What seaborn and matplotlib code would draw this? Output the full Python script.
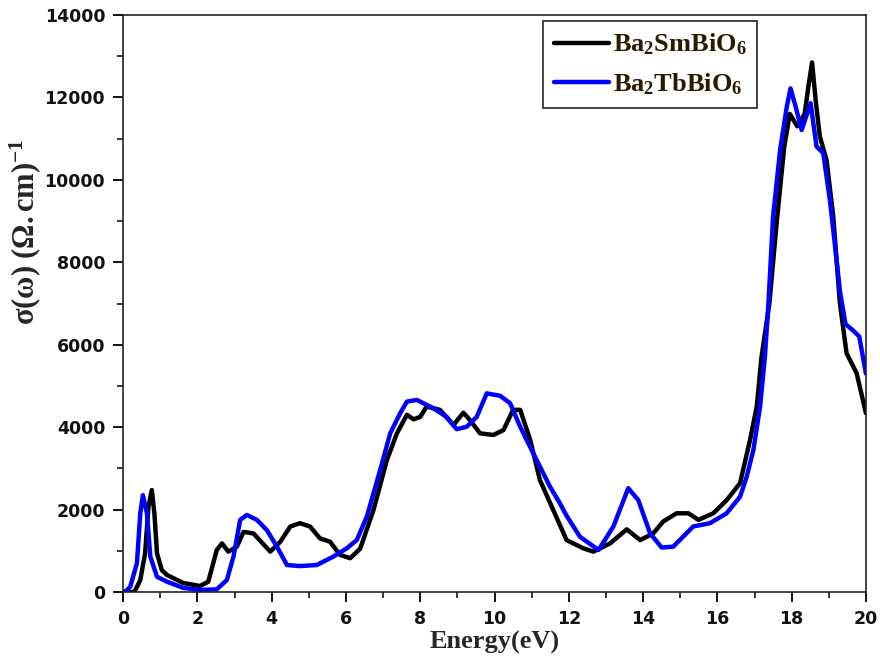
import numpy as np
import pandas as pd
import matplotlib
matplotlib.use("Agg")
import matplotlib.pyplot as plt
import seaborn as sns
from matplotlib.ticker import MultipleLocator

# Optical conductivity of the two double perovskites
sm_energy = [0.0, 0.30, 0.46, 0.59, 0.68, 0.77, 0.84, 0.91, 1.04, 1.18, 1.62, 2.07, 2.29,
             2.52, 2.66, 2.83, 3.06, 3.24, 3.51, 3.96, 4.23, 4.50, 4.76, 5.03, 5.30,
             5.57, 5.84, 6.11, 6.38, 6.74, 7.10, 7.37, 7.64, 7.82, 8.00, 8.17, 8.53,
             8.89, 9.16, 9.34, 9.61, 9.97, 10.24, 10.50, 10.69, 10.96, 11.22, 11.58,
             11.94, 12.39, 12.66, 13.11, 13.56, 13.92, 14.27, 14.54, 14.90, 15.22,
             15.49, 15.89, 16.25, 16.61, 16.88, 17.06, 17.19, 17.40, 17.60, 17.80,
             17.95, 18.15, 18.35, 18.45, 18.55, 18.65, 18.76, 18.94, 19.12, 19.30,
             19.48, 19.75, 20.0]
sm_sigma = [0, 0, 290, 940, 2070, 2475, 1910, 940, 530, 413, 218, 146, 250,
            1020, 1180, 980, 1100, 1460, 1420, 980, 1220, 1590, 1670, 1590, 1300,
            1220, 900, 820, 1050, 1990, 3200, 3850, 4300, 4190, 4250, 4500, 4420,
            4050, 4350, 4170, 3850, 3810, 3930, 4420, 4420, 3690, 2720, 1990,
            1260, 1060, 980, 1180, 1520, 1260, 1420, 1710, 1910, 1910,
            1750, 1910, 2230, 2640, 3690, 4500, 5710, 7000, 9000, 10800,
            11600, 11300, 11600, 12260, 12850, 11900, 11050, 10480, 9110, 7000,
            5790, 5310, 4340]

tb_energy = [0.0, 0.05, 0.19, 0.37, 0.46, 0.53, 0.64, 0.73, 0.91, 1.18, 1.62, 2.07, 2.52,
             2.79, 2.97, 3.15, 3.33, 3.60, 3.87, 4.14, 4.41, 4.76, 5.21, 5.66, 6.02,
             6.29, 6.56, 6.92, 7.19, 7.46, 7.64, 7.91, 8.35, 8.71, 8.98, 9.25, 9.52,
             9.79, 10.15, 10.42, 10.69, 11.04, 11.49, 11.76, 11.94, 12.30, 12.80,
             13.20, 13.60, 13.87, 14.19, 14.50, 14.81, 15.35, 15.80, 16.25, 16.61,
             16.79, 16.97, 17.15, 17.28, 17.37, 17.50, 17.69, 17.87, 17.97, 18.10,
             18.27, 18.51, 18.67, 18.85, 19.03, 19.18, 19.30, 19.45, 19.65, 19.82, 20.0]
tb_sigma = [0, 0, 130, 700, 1910, 2350, 1910, 860, 370, 250, 100, 50, 65,
            290, 860, 1750, 1870, 1750, 1500, 1100, 655, 630, 655, 860, 1060,
            1260, 1830, 2960, 3850, 4340, 4620, 4660, 4460, 4250, 3950, 4010, 4250,
            4820, 4760, 4580, 4010, 3370, 2560, 2150, 1850, 1340, 1020,
            1590, 2520, 2230, 1420, 1080, 1100, 1590, 1670, 1910, 2310,
            2800, 3450, 4500, 5710, 6920, 9110, 10730, 11780, 12220, 11800,
            11210, 11860, 10810, 10650, 9510, 8300, 7300, 6500, 6350, 6200, 5300]

labels = [r"$\mathbf{Ba_2SmBiO_6}$", r"$\mathbf{Ba_2TbBiO_6}$"]
x_ticks = [0, 2, 4, 6, 8, 10, 12, 14, 16, 18, 20]
y_ticks = [0, 2000, 4000, 6000, 8000, 10000, 12000, 14000]

df = pd.concat([
    pd.DataFrame({"Energy": sm_energy, "sigma": sm_sigma, "compound": labels[0]}),
    pd.DataFrame({"Energy": tb_energy, "sigma": tb_sigma, "compound": labels[1]}),
], ignore_index=True)

sns.set_style("ticks")
plt.rcParams["font.family"] = ["DejaVu Sans"]
plt.rcParams["mathtext.fontset"] = "custom"
plt.rcParams["mathtext.rm"] = "Liberation Serif"
plt.rcParams["mathtext.it"] = "Liberation Serif:italic"
plt.rcParams["mathtext.bf"] = "Liberation Serif:bold"

fig = plt.figure(figsize=(8.8, 6.64), dpi=100)
ax = fig.add_axes([0.14, 0.1084, 0.844, 0.869])

sns.lineplot(data=df, x="Energy", y="sigma", hue="compound",
             palette=["#000000", "#0000ff"], linewidth=3.2, sort=False,
             estimator=None, ax=ax)

ax.set_xlim(0, 20)
ax.set_ylim(0, 14000)
ax.set_xticks(x_ticks)
ax.set_yticks(y_ticks)
ax.xaxis.set_minor_locator(MultipleLocator(1))
ax.yaxis.set_minor_locator(MultipleLocator(1000))
ax.tick_params(which="major", direction="out", length=7, width=1.3, color="black",
               labelsize=12.5, pad=6)
ax.tick_params(which="minor", direction="out", length=4, width=1.1, color="black")
for lab in ax.get_xticklabels() + ax.get_yticklabels():
    lab.set_fontweight("bold")
    lab.set_color("#111111")

for side in ["top", "right", "bottom", "left"]:
    ax.spines[side].set_visible(True)
    ax.spines[side].set_linewidth(1.2)
    ax.spines[side].set_color("#222222")

ax.set_xlabel("Energy(eV)", fontsize=19, fontweight="bold",
              family="Liberation Serif", labelpad=2)
ax.set_ylabel(r"$\mathbf{\sigma(\omega)\ (\Omega.cm)^{-1}}$", fontsize=22)
ax.yaxis.set_label_coords(-0.108, 0.625)

leg = ax.legend(loc="upper left", bbox_to_anchor=(0.565, 0.990), fontsize=19,
                frameon=True, fancybox=False, framealpha=1, edgecolor="#222222",
                handlelength=2.1, handletextpad=0.12, borderpad=0.42,
                labelspacing=0.5, borderaxespad=0)
leg.get_frame().set_linewidth(1.2)
for line in leg.get_lines():
    line.set_linewidth(3.2)
for txt in leg.get_texts():
    txt.set_color("#2a1a00")

fig.savefig("out.png", dpi=100)
